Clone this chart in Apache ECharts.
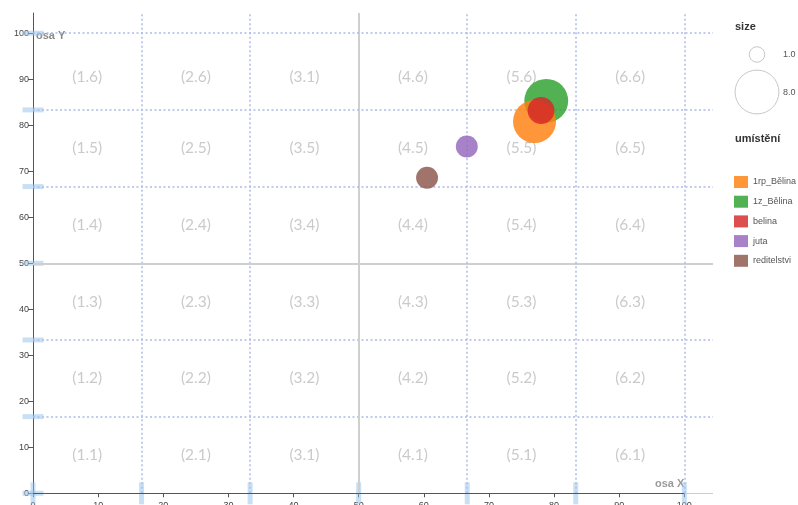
<!DOCTYPE html>
<html>
<head>
<meta charset="utf-8">
<script src="https://cdn.jsdelivr.net/npm/echarts@6/dist/echarts.min.js"></script>
<style>html,body{margin:0;padding:0;background:#fff}#c{width:798px;height:505px}</style>
</head>
<body>
<div id="c"></div>
<script>
// ---- data ----
const categories = ['1z_Bělina', '1rp_Bělina', 'belina', 'juta', 'reditelstvi'];
const legendOrder = ['1rp_Bělina', '1z_Bělina', 'belina', 'juta', 'reditelstvi'];
const xValues = [78.8, 77.0, 78.0, 66.6, 60.5];
const yValues = [85.3, 80.8, 83.2, 75.4, 68.6];
const sizeValues = [8, 7.7, 3, 2, 2];
const colors = {'1rp_Bělina': '#ff7f0e', '1z_Bělina': '#2ca02c', 'belina': '#d62728', 'juta': '#9467bd', 'reditelstvi': '#8c564b'};
const boundaries = [0, 100/6, 200/6, 50, 400/6, 500/6, 100];
const cellX = [8.33, 25, 41.67, 58.33, 75, 91.67];
const cellY = [8.33, 25, 41.67, 58.33, 75, 90.5];
// cell texts, column by column (bottom to top)
const cellText = [
  ['(1.1)', '(1.2)', '(1.3)', '(1.4)', '(1.5)', '(1.6)'],
  ['(2.1)', '(2.2)', '(2.3)', '(2.4)', '(2.5)', '(2.6)'],
  ['(3.1)', '(3.2)', '(3.3)', '(3.4)', '(3.5)', '(3.1)'],
  ['(4.1)', '(4.2)', '(4.3)', '(4.4)', '(4.5)', '(4.6)'],
  ['(5.1)', '(5.2)', '(5.3)', '(5.4)', '(5.5)', '(5.6)'],
  ['(6.1)', '(6.2)', '(6.3)', '(6.4)', '(6.5)', '(6.6)']
];
const sizeLegend = [1.0, 8.0];

const rOf = s => 7.75 * Math.sqrt(s);

const chart = echarts.init(document.getElementById('c'), null, {renderer: 'canvas'});

const cellData = [];
cellX.forEach((x, i) => cellY.forEach((y, j) => {
  cellData.push({value: [x, y], name: cellText[i][j]});
}));

const dotted = {color: '#aebbe8', width: 1.5, type: [2, 2.5]};
const solidGray = {color: '#cfcfcf', width: 2, type: 'solid'};
const gridLines = [];
boundaries.slice(1).forEach(b => {
  const st = Math.abs(b - 50) < 1e-6 ? solidGray : dotted;
  gridLines.push({xAxis: b, lineStyle: st});
  gridLines.push({yAxis: b, lineStyle: st});
});
gridLines.push({yAxis: 0, lineStyle: {color: '#cccccc', width: 1, type: 'solid'}});
gridLines.push([{coord: [0, 0], lineStyle: {color: '#555', width: 1, type: 'solid'}}, {coord: [100, 0]}]);

const series = [
  {
    type: 'scatter', name: '_lines', data: [], silent: true, z: 1,
    markLine: {silent: true, symbol: 'none', label: {show: false}, animation: false, data: gridLines}
  },
  {
    type: 'scatter', name: '_cells', silent: true, z: 2, symbolSize: 1,
    itemStyle: {color: 'transparent'},
    label: {show: true, position: 'inside', formatter: '{b}', color: '#bdbdbd', fontSize: 15.5, fontFamily: 'Lato'},
    data: cellData
  },
  {
    type: 'scatter', name: '_xbars', silent: true, z: 3, symbol: 'rect', symbolSize: [5, 22],
    itemStyle: {color: 'rgba(150,195,235,0.65)'},
    data: boundaries.map(b => [b, 0])
  },
  {
    type: 'scatter', name: '_ybars', silent: true, z: 3, symbol: 'rect', symbolSize: [21, 5],
    itemStyle: {color: 'rgba(150,195,235,0.65)'},
    data: boundaries.map(b => [0, b])
  }
];
categories.forEach((c, i) => {
  series.push({
    type: 'scatter', name: c, z: 5 + i,
    itemStyle: {color: colors[c], opacity: 0.82},
    symbolSize: v => 2 * rOf(v[2]),
    data: [[xValues[i], yValues[i], sizeValues[i]]]
  });
});

const legendGraphics = [
  {type: 'text', left: 735, top: 21, style: {text: 'size', font: 'bold 11px "Liberation Sans", Arial', fill: '#333'}},
  {type: 'text', left: 735, top: 133, style: {text: 'umístění', font: 'bold 11px "Liberation Sans", Arial', fill: '#333'}},
  {type: 'text', left: 36, top: 30, style: {text: 'osa Y', font: 'bold 11px "Liberation Sans", Arial', fill: '#8a8a8a'}},
  {type: 'text', left: 655, top: 478, style: {text: 'osa X', font: 'bold 11px "Liberation Sans", Arial', fill: '#9a9a9a'}}
];
const sizeCy = [54.5, 92];
sizeLegend.forEach((s, i) => {
  legendGraphics.push({type: 'circle', shape: {cx: 757, cy: sizeCy[i], r: rOf(s)}, style: {fill: 'none', stroke: '#c8c8c8', lineWidth: 1}});
  legendGraphics.push({type: 'text', left: 783, top: sizeCy[i] - 4, style: {text: s.toFixed(1), font: '9px "Liberation Sans", Arial', fill: '#555'}});
});

chart.setOption({
  animation: false,
  backgroundColor: '#fff',
  grid: {left: 33, top: 13, width: 680, height: 480.3, containLabel: false, outerBoundsMode: 'none'},
  xAxis: {
    type: 'value', min: 0, max: 104.4, interval: 10,
    axisLine: {show: false},
    axisTick: {show: true, length: 4, lineStyle: {color: '#555'}},
    axisLabel: {color: '#444', fontSize: 9, margin: 8, showMaxLabel: false, fontFamily: 'Liberation Sans'},
    splitLine: {show: false}
  },
  yAxis: {
    type: 'value', min: 0, max: 104.4, interval: 10,
    axisLine: {show: true, lineStyle: {color: '#555', width: 1}},
    axisTick: {show: true, length: 5, lineStyle: {color: '#555'}},
    axisLabel: {color: '#444', fontSize: 9, margin: 4, showMaxLabel: false, fontFamily: 'Liberation Sans'},
    splitLine: {show: false}
  },
  legend: {
    data: legendOrder, orient: 'vertical', left: 734, top: 176, padding: 0,
    itemWidth: 14, itemHeight: 12, itemGap: 7.7, icon: 'rect',
    textStyle: {fontSize: 9, color: '#555', fontFamily: 'Liberation Sans'},
    selectedMode: false
  },
  graphic: legendGraphics,
  series: series
});
</script>
</body>
</html>
